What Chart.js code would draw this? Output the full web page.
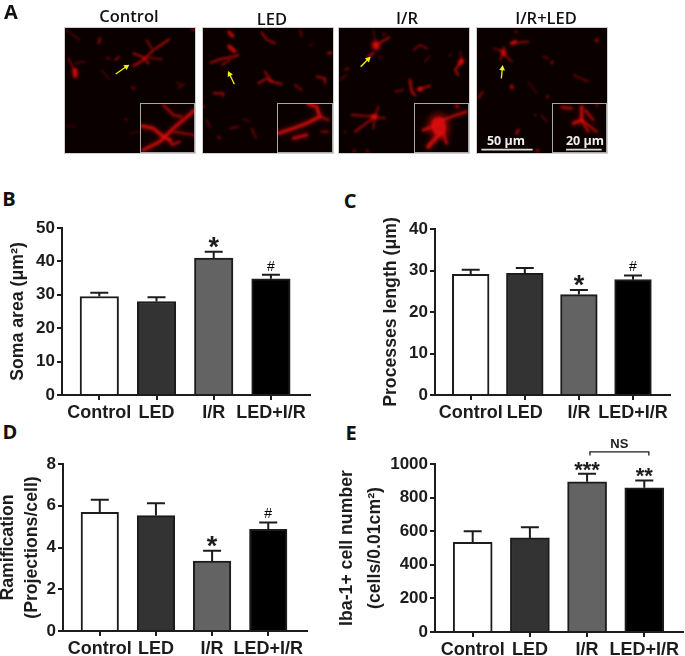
<!DOCTYPE html>
<html>
<head>
<meta charset="utf-8">
<script src="https://cdn.jsdelivr.net/npm/chart.js@4"></script>
<style>
html,body{margin:0;padding:0;background:#fff;width:685px;height:656px;overflow:hidden}
canvas{position:absolute}
.t{position:absolute;font-family:"Open Sans",sans-serif;white-space:nowrap;transform:translate(-50%,-50%);color:#111}
.h{font-weight:600;font-size:16.5px}
.l{font-weight:700;font-size:20px}
.w{font-weight:700;font-size:12.5px;color:#eee}
</style>
</head>
<body>
<canvas id="micro" width="685" height="160" style="left:0;top:0"></canvas>
<div class="t h" style="left:129px;top:15px">Control</div>
<div class="t h" style="left:272px;top:18px">LED</div>
<div class="t h" style="left:407px;top:17px">I/R</div>
<div class="t h" style="left:546px;top:17px">I/R+LED</div>
<div class="t w" style="left:506px;top:140px">50 µm</div>
<div class="t w" style="left:585px;top:140px">20 µm</div>
<div class="t l" style="left:11px;top:11px">A</div>
<div class="t l" style="left:9px;top:198px">B</div>
<div class="t l" style="left:350px;top:200px">C</div>
<div class="t l" style="left:10px;top:431px">D</div>
<div class="t l" style="left:351px;top:432px">E</div>
<canvas id="chartB"></canvas>
<canvas id="chartC"></canvas>
<canvas id="chartD"></canvas>
<canvas id="chartE"></canvas>
<script>
// ---- data ----
const categories = ["Control", "LED", "I/R", "LED+I/R"];
const somaArea = [29.5, 28, 41, 34.8];
const somaAreaTop = [30.6, 29.3, 42.9, 36];
const somaMarks = ["", "", "*", "#"];
const processLength = [29.05, 29.3, 24.2, 27.8];
const processLengthTop = [30.2, 30.6, 25.3, 28.8];
const processMarks = ["", "", "*", "#"];
const ramification = [5.69, 5.53, 3.35, 4.87];
const ramificationTop = [6.29, 6.12, 3.85, 5.2];
const ramificationMarks = ["", "", "*", "#"];
const ibaCells = [534, 560, 894, 858];
const ibaCellsTop = [600, 623, 942, 902];
const ibaMarks = ["", "", "***", "**"];

const barFill = ["#ffffff", "#333333", "#636363", "#000000"];
const ink = "#1c1c1c";
const sans = "'Liberation Sans', Arial, sans-serif";

// ---- decorative approximation of the micrographs (panel A) ----
const frames = [
  {x:65,  y:28, w:130, h:125, ix:140},
  {x:203, y:28, w:130, h:125, ix:277},
  {x:339, y:28, w:130, h:125, ix:414},
  {x:477, y:28, w:130, h:125, ix:552}
];
// each stroke: width, alpha, then points in a 3x crop space
const cells = [
 [[1.5,.8,400,198,430,180,460,150,490,130,507,118],[1.5,.8,400,160,430,172,445,190],[1.2,.7,440,120,455,145],[1.2,.6,440,172,485,178],
  [4,.9,225,212,226,226],[1.2,.6,205,175,225,215],[1,.5,225,190,255,185],[1,.45,197,90,240,120],[1.5,.7,300,115,296,130],[1.2,.5,320,172,330,178],
  [1.4,.6,345,180,358,170],[1,.4,305,210,328,238],[1,.5,530,250,553,255],[1,.5,535,265,545,258],[1.2,.6,395,262,405,266],[1.2,.5,375,358,383,360],
  [2,.15,200,378,225,380],[1.5,.2,390,400,420,395],[1.5,.6,575,88,585,90]],
 [[1.5,.8,632,188,660,178,700,170,715,165],[1.2,.7,665,195,690,180],[3,.9,688,140,703,153],[2.5,.9,687,97,698,108],[1.5,.7,785,98,800,118,825,130],
  [1.2,.5,900,90,905,110],[1,.4,930,140,940,130],[2,.7,985,160,993,158],[1.5,.75,775,250,800,235,815,245,845,252],[1.5,.7,795,215,815,245],
  [1.5,.7,950,230,975,235,975,250],[1.5,.6,885,255,905,270],[1.5,.7,640,280,670,280,668,288],[1.3,.4,620,360,630,382],[1.3,.5,690,385,715,380],
  [1.5,.4,755,385,768,415],[1.5,.6,655,410,660,415],[1.5,.4,610,315,613,322],[1,.4,730,358,750,365]],
 [[6,.95,107,135,108,138],[1.4,.8,107,135,148,112],[1,.4,107,135,100,90],[2,.7,100,160,85,170],[1,.4,115,165,125,180],[1.2,.6,135,100,130,105],
  [1.2,.6,220,150,240,135,262,145],[1.2,.4,255,185,268,170],[1.5,.7,330,165,331,165],[4,.9,365,183,362,187],[1.5,.8,365,183,345,210,355,225],[1,.5,365,183,360,155],
  [1.8,.8,210,240,215,275,225,285],[1.5,.8,235,268,270,258],[3.5,.9,240,268,241,268],[1.2,.6,165,275,190,270],[1.3,.7,35,345,105,350,135,355],[1.2,.7,105,350,115,320],
  [1.6,.7,105,350,45,395],[1.2,.7,105,350,100,385],[4,.8,105,350,100,350],[1.3,.6,15,210,25,205],[1.2,.4,0,240,20,225],[1.5,.5,15,395,16,396],[1.5,.5,40,450,45,455],[1.5,.5,80,450,85,455]],
 [[4,.85,490,155,491,160],[1,.6,490,155,460,145],[1.2,.7,490,160,480,180],[1.2,.7,490,160,515,185],[1,.7,492,155,492,140],[3,.8,516,130,525,126],[1.2,.7,520,128,565,125],
  [1.5,.5,528,92,529,98],[2.5,.7,770,120,771,122],[1.2,.5,610,170,625,175],[2,.7,635,188,637,187],[1.2,.5,700,225,745,245],[3,.7,515,260,516,262],[1,.35,565,245,590,280],
  [1.5,.6,415,295,428,275],[1.5,.5,585,345,586,346],[1.2,.4,605,345,620,365],[2,.7,535,390,530,400],[2,.6,590,450,595,452],[2,.6,622,290,623,291]]
];
const zooms = [
 [[3,.9,425,378,460,385,490,410,510,420],[3,.85,430,450,480,425,520,385,585,330],[2,.7,490,315,520,345,545,350],[2,.8,510,420,515,435,540,425],[2,.6,520,395,585,405]],
 [[3,.9,835,400,880,385,920,370,960,350,950,320,925,312],[2,.7,960,350,985,360],[3,.8,880,415,920,405],[2,.5,965,395,985,395]],
 [[14,.95,295,372,298,385],[2.2,.85,295,365,335,350,380,335],[3,.8,295,375,250,390],[4,.85,300,400,265,440],[3,.7,310,400,320,430],[3,.7,350,318,352,320]],
 [[3,.85,725,320,725,360,700,370],[2,.8,725,360,770,395],[2,.8,725,360,745,395],[2,.75,735,330,760,360],[2.5,.7,665,322,695,325],[2,.6,770,315,772,316]]
];
const arrows = [[347,222,388,194],[703,253,684,213],[62,200,92,170],[484,235,488,195]];
const scaleBars = [[424,578,449],[678,785,449]];
const cropShift = [0,0,1020,1020];

(function drawMicro(){
  const c = document.getElementById('micro').getContext('2d');
  const strokes = (list, shift, widen, fade) => {
    c.save();
    c.scale(1/3,1/3);
    c.translate(shift,0);
    c.lineCap='round'; c.lineJoin='round';
    list.forEach(s=>{
      c.strokeStyle='rgba(225,14,14,'+(s[1]*fade)+')';
      c.lineWidth=s[0]*3*widen;
      c.beginPath();
      for(let i=2;i<s.length;i+=2){ if(i===2) c.moveTo(s[i],s[i+1]); else c.lineTo(s[i],s[i+1]); }
      c.stroke();
    });
    c.restore();
  };
  frames.forEach((f,i)=>{
    c.fillStyle='#0a0000'; c.fillRect(f.x,f.y,f.w,f.h);
    c.save();
    c.beginPath(); c.rect(f.x,f.y,f.w,f.h); c.clip();
    c.filter='blur(1.6px)';
    strokes(cells[i],cropShift[i],1.8,.4);
    c.filter='blur(0.9px)';
    strokes(cells[i],cropShift[i],1,.85);
    c.restore();
    c.fillStyle='#0a0000'; c.fillRect(f.ix,103,f.x+f.w-f.ix,f.y+f.h-103);
    c.save();
    c.beginPath(); c.rect(f.ix,103,f.x+f.w-f.ix,f.y+f.h-103); c.clip();
    c.filter='blur(2.5px)';
    strokes(zooms[i],cropShift[i],1.6,.45);
    c.filter='blur(1.2px)';
    strokes(zooms[i],cropShift[i],1,.9);
    c.restore();
    c.strokeStyle='#a8a8a8'; c.lineWidth=1;
    c.strokeRect(f.ix+.5,103.5,f.x+f.w-f.ix-1,f.y+f.h-104);
    c.strokeStyle='#cfcfcf';
    c.strokeRect(f.x-.5,f.y-.5,f.w+1,f.h+1);
    // yellow arrow
    const a=arrows[i], x0=(a[0]+cropShift[i])/3,y0=a[1]/3,x1=(a[2]+cropShift[i])/3,y1=a[3]/3;
    const ang=Math.atan2(y1-y0,x1-x0);
    c.strokeStyle='#f4ee1c'; c.fillStyle='#f4ee1c'; c.lineWidth=1.3;
    c.beginPath(); c.moveTo(x0,y0); c.lineTo(x1-2*Math.cos(ang),y1-2*Math.sin(ang)); c.stroke();
    c.beginPath(); c.moveTo(x1,y1);
    c.lineTo(x1-6*Math.cos(ang-.5),y1-6*Math.sin(ang-.5));
    c.lineTo(x1-6*Math.cos(ang+.5),y1-6*Math.sin(ang+.5));
    c.closePath(); c.fill();
  });
  c.strokeStyle='#ddd'; c.lineWidth=1.6;
  scaleBars.forEach(b=>{
    c.beginPath(); c.moveTo((b[0]+1020)/3,b[2]/3); c.lineTo((b[1]+1020)/3,b[2]/3); c.stroke();
  });
})();

// ---- bar panels ----
const errorBars = {
  id:'errorBars',
  afterDatasetsDraw(chart, args, o){
    const {ctx, scales:{x,y}} = chart;
    ctx.save();
    ctx.strokeStyle=ink; ctx.lineWidth=2; ctx.fillStyle=ink;
    o.values.forEach((v,i)=>{
      const px=x.getPixelForValue(i), top=y.getPixelForValue(o.tops[i]), base=y.getPixelForValue(v);
      ctx.beginPath();
      ctx.moveTo(px,base); ctx.lineTo(px,top);
      ctx.moveTo(px-o.cap,top); ctx.lineTo(px+o.cap,top);
      ctx.stroke();
      const m=o.marks[i];
      if(!m) return;
      ctx.textAlign='center'; ctx.textBaseline='alphabetic';
      if(m==='#'){
        ctx.fillStyle='#000';
        ctx.font="14px "+sans;
        ctx.fillText(m,px,top-4);
        ctx.fillStyle=ink;
      } else {
        ctx.font=(m.length>1?"bold 22px ":"bold 27px ")+sans;
        ctx.fillText(m,px,top+(m.length>1?3:4));
      }
    });
    if(o.bracket){
      const b=o.bracket, l=x.getPixelForValue(b.from), r=x.getPixelForValue(b.to), h=y.getPixelForValue(b.at);
      ctx.lineWidth=1.3;
      ctx.beginPath(); ctx.moveTo(l,h+3.5); ctx.lineTo(l,h); ctx.lineTo(r,h); ctx.lineTo(r,h+3.5); ctx.stroke();
      ctx.font="bold 13px "+sans; ctx.textAlign='center'; ctx.textBaseline='middle';
      ctx.fillText(b.text,(l+r)/2,h-7.5);
    }
    ctx.restore();
  }
};

function panel(id, p){
  const cv=document.getElementById(id);
  cv.style.left=p.left+'px'; cv.style.top=p.top+'px';
  cv.style.width=p.width+'px'; cv.style.height=p.height+'px';
  cv.width=p.width; cv.height=p.height;
  return new Chart(cv,{
    type:'bar',
    data:{
      labels:categories,
      datasets:[{
        data:categories.map((c,i)=>({x:i,y:p.values[i]})),
        backgroundColor:barFill,
        borderColor:ink,
        borderWidth:2,
        borderSkipped:'bottom',
        barThickness:p.bar
      }]
    },
    plugins:[errorBars],
    options:{
      responsive:false,
      animation:false,
      events:[],
      layout:{padding:{top:p.axisTop-p.top,right:p.left+p.width-p.axisEnd,left:0,bottom:0}},
      plugins:{
        legend:{display:false},
        tooltip:{enabled:false},
        errorBars:{values:p.values,tops:p.tops,marks:p.marks,cap:p.cap,bracket:p.bracket}
      },
      scales:{
        x:{
          type:'linear',
          offset:false,
          min:p.xMin,max:p.xMax,
          afterBuildTicks:a=>{a.ticks=categories.map((c,i)=>({value:i}));},
          afterFit:s=>{s.height=p.top+p.height-p.axisBase;},
          grid:{offset:false,drawOnChartArea:false,color:ink,lineWidth:2,tickLength:5},
          border:{color:ink,width:2},
          ticks:{autoSkip:false,maxRotation:0,padding:2,color:ink,font:{family:sans,weight:'bold',size:18},
                 callback:v=>categories[v]}
        },
        y:{
          min:0,max:p.yMax,
          afterFit:s=>{s.width=p.axisX-p.left;},
          grid:{drawOnChartArea:false,color:ink,lineWidth:2,tickLength:5},
          border:{color:ink,width:2},
          ticks:{stepSize:p.step,padding:2,color:ink,font:{family:sans,weight:'bold',size:17},callback:v=>String(v)},
          title:{display:true,text:p.title,color:ink,padding:0,
                 font:{family:sans,weight:'bold',size:17.7,lineHeight:p.titleLine}}
        }
      }
    }
  });
}

panel('chartB',{left:8,top:205,width:312,height:225,axisX:62,axisTop:228,axisBase:395,axisEnd:310,
  xMin:-0.652,xMax:3.683,yMax:50,step:10,bar:38.5,cap:9,titleLine:'21px',
  title:"Soma area (μm²)",values:somaArea,tops:somaAreaTop,marks:somaMarks});
panel('chartC',{left:381,top:205,width:304,height:225,axisX:435,axisTop:229,axisBase:395,axisEnd:670,
  xMin:-0.66,xMax:3.684,yMax:40,step:10,bar:36.7,cap:9,titleLine:'21px',
  title:"Processes length (μm)",values:processLength,tops:processLengthTop,marks:processMarks});
panel('chartD',{left:-4,top:438,width:324,height:218,axisX:63,axisTop:464,axisBase:631,axisEnd:307,
  xMin:-0.655,xMax:3.69,yMax:8,step:2,bar:37.5,cap:9,titleLine:'24px',
  title:["Ramification","(Projections/cell)"],values:ramification,tops:ramificationTop,marks:ramificationMarks});
panel('chartE',{left:333,top:438,width:352,height:218,axisX:435,axisTop:464,axisBase:632,axisEnd:683,
  xMin:-0.659,xMax:3.677,yMax:1000,step:200,bar:39,cap:9,titleLine:'28px',
  title:["Iba-1+ cell number","(cells/0.01cm²)"],values:ibaCells,tops:ibaCellsTop,marks:ibaMarks,
  bracket:{from:2.05,to:3.08,at:1072,text:"NS"}});
</script>
</body>
</html>
